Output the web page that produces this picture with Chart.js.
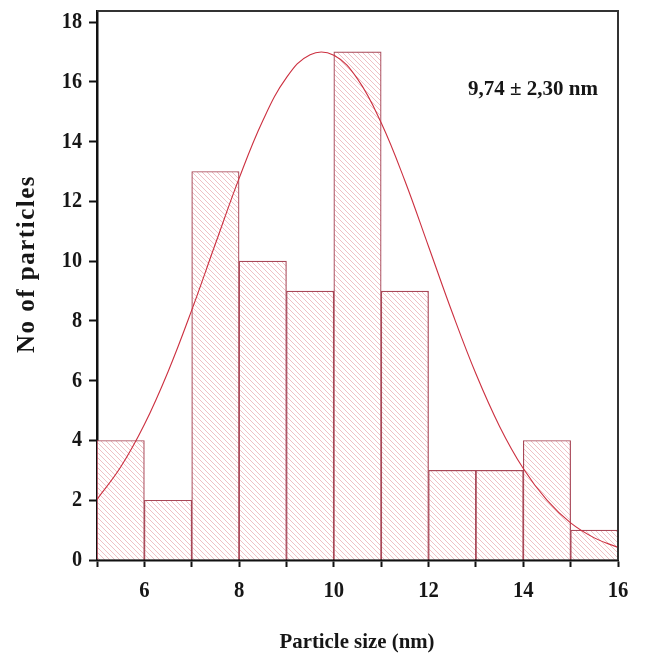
<!DOCTYPE html>
<html>
<head>
<meta charset="utf-8">
<script src="https://cdn.jsdelivr.net/npm/chart.js@4/dist/chart.umd.min.js"></script>
<style>
html,body{margin:0;padding:0;background:#fff;}
#wrap{width:645px;height:660px;position:relative;}
</style>
</head>
<body>
<div id="wrap"><canvas id="c" width="645" height="660"></canvas></div>
<script>
// Histogram bins (centres) and counts
const binCentres = [5.5, 6.5, 7.5, 8.5, 9.5, 10.5, 11.5, 12.5, 13.5, 14.5, 15.5];
const counts     = [4, 2, 13, 10, 9, 17, 9, 3, 3, 4, 1];
// Fitted curve
const curveX = [5, 5.5, 6, 6.5, 7, 7.5, 8, 8.5, 9, 9.5, 10, 10.5, 11, 11.5, 12, 12.5, 13, 13.5, 14, 14.5, 15, 15.5, 16];
const curveY = [2.03, 3.11, 4.53, 6.30, 8.36, 10.58, 12.77, 14.70, 16.14, 16.91, 16.89, 16.10, 14.63, 12.69, 10.49, 8.28, 6.23, 4.47, 3.06, 2.00, 1.24, 0.74, 0.42];
const xTicks = [5, 6, 7, 8, 9, 10, 11, 12, 13, 14, 15, 16];
const xLabelTicks = [6, 8, 10, 12, 14, 16];
const yTicks = [0, 2, 4, 6, 8, 10, 12, 14, 16, 18];
const xTitle = 'Particle size (nm)';
const yTitle = 'No of particles';
const annotationText = '9,74 \u00b1 2,30 nm';

function hatch() {
  const s = 5;
  const p = document.createElement('canvas');
  p.width = s; p.height = s;
  const g = p.getContext('2d');
  g.fillStyle = '#ffffff';
  g.fillRect(0, 0, s, s);
  g.strokeStyle = 'rgba(222,128,136,0.55)';
  g.lineWidth = 0.9;
  g.beginPath();
  g.moveTo(0, 0); g.lineTo(s, s);
  g.moveTo(-s, 0); g.lineTo(s, 2 * s);
  g.moveTo(0, -s); g.lineTo(2 * s, s);
  g.stroke();
  return g.createPattern(p, 'repeat');
}

const serif = "'Liberation Serif', 'DejaVu Serif', serif";

function drawText(ctx, text, x, y, size, opts) {
  opts = opts || {};
  ctx.save();
  ctx.font = 'bold ' + size + 'px ' + serif;
  ctx.fillStyle = '#161616';
  ctx.textBaseline = 'middle';
  if (opts.spacing) ctx.letterSpacing = opts.spacing + 'px';
  const w = ctx.measureText(text).width;
  const sx = opts.width ? opts.width / w : (opts.sx || 1);
  ctx.translate(x, y);
  if (opts.rotate) ctx.rotate(opts.rotate);
  ctx.scale(sx, 1);
  ctx.textAlign = opts.align || 'center';
  ctx.fillText(text, 0, 0);
  ctx.restore();
}

const textPlugin = {
  id: 'texts',
  afterDatasetsDraw(chart) {
    const a = chart.chartArea, ctx = chart.ctx;
    const xs = chart.scales.x, ys = chart.scales.y;
    ctx.save();
    ctx.strokeStyle = '#333';
    ctx.lineWidth = 2;
    ctx.beginPath();
    ctx.moveTo(a.left, a.top);
    ctx.lineTo(a.right, a.top);
    ctx.lineTo(a.right, a.bottom);
    ctx.stroke();
    ctx.restore();
    xLabelTicks.forEach(v => drawText(ctx, String(v), xs.getPixelForValue(v), 591, 23, {sx: 0.9}));
    yTicks.forEach(v => drawText(ctx, String(v), 82, ys.getPixelForValue(v), 23, {sx: 0.88, align: 'right'}));
    drawText(ctx, xTitle, 357, 642, 22, {width: 155});
    drawText(ctx, yTitle, 28, 264, 25, {width: 178, spacing: 1.5, rotate: -Math.PI / 2});
    drawText(ctx, annotationText, 533, 90, 20, {width: 130});
  }
};

new Chart(document.getElementById('c'), {
  data: {
    datasets: [
      {
        type: 'line',
        data: curveX.map((x, i) => ({x: x, y: curveY[i]})),
        borderColor: '#cc3040',
        borderWidth: 1.1,
        pointRadius: 0,
        tension: 0.4,
        fill: false,
        order: 0
      },
      {
        type: 'bar',
        data: binCentres.map((x, i) => ({x: x, y: counts[i]})),
        backgroundColor: hatch(),
        borderColor: '#a84858',
        borderWidth: 1.2,
        barPercentage: 1,
        categoryPercentage: 1,
        grouped: false,
        order: 1
      }
    ]
  },
  options: {
    responsive: false,
    animation: false,
    devicePixelRatio: 1,
    layout: {padding: {top: 11, right: 27, left: 0, bottom: 0}},
    plugins: {legend: {display: false}, tooltip: {enabled: false}},
    scales: {
      x: {
        type: 'linear',
        offset: false,
        min: 5, max: 16,
        afterBuildTicks: s => { s.ticks = xTicks.map(v => ({value: v})); },
        afterFit: s => { s.height = 100; },
        border: {display: true, color: '#111', width: 2.5},
        grid: {display: true, offset: false, drawOnChartArea: false, drawTicks: true, tickLength: 7, tickWidth: 2, tickColor: '#111'},
        ticks: {display: false, autoSkip: false}
      },
      y: {
        type: 'linear',
        min: 0, max: 18.37,
        afterBuildTicks: s => { s.ticks = yTicks.map(v => ({value: v})); },
        afterFit: s => { s.width = 97; },
        border: {display: true, color: '#111', width: 2.5},
        grid: {display: true, drawOnChartArea: false, drawTicks: true, tickLength: 8, tickWidth: 2, tickColor: '#111'},
        ticks: {display: false, autoSkip: false}
      }
    }
  },
  plugins: [textPlugin]
});
</script>
</body>
</html>
